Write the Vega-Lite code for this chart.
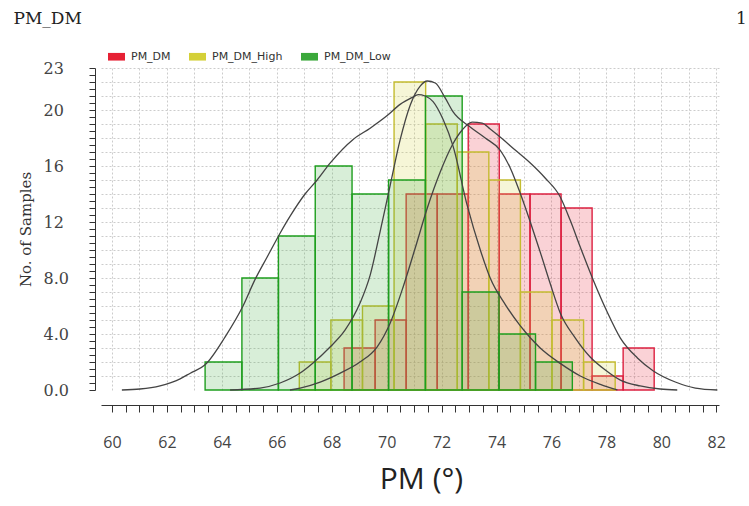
{
  "$schema": "https://vega.github.io/schema/vega-lite/v6.json",
  "width": 618,
  "height": 322,
  "autosize": {"type": "none"},
  "padding": {"left": 101, "top": 68, "right": 30, "bottom": 116},
  "background": "white",
  "config": {"font": "DejaVu Sans", "view": {"stroke": null}},
  "datasets": {
    "bars": [
      {"series": "PM_DM", "bin_start": 68.45, "bin_end": 69.58, "count": 3},
      {"series": "PM_DM", "bin_start": 69.58, "bin_end": 70.71, "count": 5},
      {"series": "PM_DM", "bin_start": 70.71, "bin_end": 71.84, "count": 14},
      {"series": "PM_DM", "bin_start": 71.84, "bin_end": 72.97, "count": 14},
      {"series": "PM_DM", "bin_start": 72.97, "bin_end": 74.10, "count": 19},
      {"series": "PM_DM", "bin_start": 74.10, "bin_end": 75.22, "count": 14},
      {"series": "PM_DM", "bin_start": 75.22, "bin_end": 76.35, "count": 14},
      {"series": "PM_DM", "bin_start": 76.35, "bin_end": 77.48, "count": 13},
      {"series": "PM_DM", "bin_start": 77.48, "bin_end": 78.61, "count": 1},
      {"series": "PM_DM", "bin_start": 78.61, "bin_end": 79.74, "count": 3},
      {"series": "PM_DM_High", "bin_start": 66.82, "bin_end": 67.97, "count": 2},
      {"series": "PM_DM_High", "bin_start": 67.97, "bin_end": 69.12, "count": 5},
      {"series": "PM_DM_High", "bin_start": 69.12, "bin_end": 70.27, "count": 6},
      {"series": "PM_DM_High", "bin_start": 70.27, "bin_end": 71.42, "count": 22},
      {"series": "PM_DM_High", "bin_start": 71.42, "bin_end": 72.57, "count": 19},
      {"series": "PM_DM_High", "bin_start": 72.57, "bin_end": 73.72, "count": 17},
      {"series": "PM_DM_High", "bin_start": 73.72, "bin_end": 74.87, "count": 15},
      {"series": "PM_DM_High", "bin_start": 74.87, "bin_end": 76.02, "count": 7},
      {"series": "PM_DM_High", "bin_start": 76.02, "bin_end": 77.17, "count": 5},
      {"series": "PM_DM_High", "bin_start": 77.17, "bin_end": 78.32, "count": 2},
      {"series": "PM_DM_Low", "bin_start": 63.39, "bin_end": 64.73, "count": 2},
      {"series": "PM_DM_Low", "bin_start": 64.73, "bin_end": 66.06, "count": 8},
      {"series": "PM_DM_Low", "bin_start": 66.06, "bin_end": 67.40, "count": 11},
      {"series": "PM_DM_Low", "bin_start": 67.40, "bin_end": 68.74, "count": 16},
      {"series": "PM_DM_Low", "bin_start": 68.74, "bin_end": 70.07, "count": 14},
      {"series": "PM_DM_Low", "bin_start": 70.07, "bin_end": 71.41, "count": 15},
      {"series": "PM_DM_Low", "bin_start": 71.41, "bin_end": 72.75, "count": 21},
      {"series": "PM_DM_Low", "bin_start": 72.75, "bin_end": 74.09, "count": 7},
      {"series": "PM_DM_Low", "bin_start": 74.09, "bin_end": 75.42, "count": 4},
      {"series": "PM_DM_Low", "bin_start": 75.42, "bin_end": 76.76, "count": 2}
    ],
    "curves": [
      {"series": "PM_DM_Low", "x": 60.36, "y": 0},
      {"series": "PM_DM_Low", "x": 61.02, "y": 0.07},
      {"series": "PM_DM_Low", "x": 61.75, "y": 0.3},
      {"series": "PM_DM_Low", "x": 62.48, "y": 0.8},
      {"series": "PM_DM_Low", "x": 62.85, "y": 1.2},
      {"series": "PM_DM_Low", "x": 63.39, "y": 1.8},
      {"series": "PM_DM_Low", "x": 64.12, "y": 3.8},
      {"series": "PM_DM_Low", "x": 64.77, "y": 6.0},
      {"series": "PM_DM_Low", "x": 65.21, "y": 7.9},
      {"series": "PM_DM_Low", "x": 65.65, "y": 9.5},
      {"series": "PM_DM_Low", "x": 66.12, "y": 11.2},
      {"series": "PM_DM_Low", "x": 66.48, "y": 12.4},
      {"series": "PM_DM_Low", "x": 67.03, "y": 14.0},
      {"series": "PM_DM_Low", "x": 67.47, "y": 15.0},
      {"series": "PM_DM_Low", "x": 67.94, "y": 16.2},
      {"series": "PM_DM_Low", "x": 68.78, "y": 17.9},
      {"series": "PM_DM_Low", "x": 69.40, "y": 18.7},
      {"series": "PM_DM_Low", "x": 70.02, "y": 19.6},
      {"series": "PM_DM_Low", "x": 70.49, "y": 20.4},
      {"series": "PM_DM_Low", "x": 70.93, "y": 20.9},
      {"series": "PM_DM_Low", "x": 71.15, "y": 21.1},
      {"series": "PM_DM_Low", "x": 71.40, "y": 21.0},
      {"series": "PM_DM_Low", "x": 71.69, "y": 20.6},
      {"series": "PM_DM_Low", "x": 72.06, "y": 19.3},
      {"series": "PM_DM_Low", "x": 72.42, "y": 17.4},
      {"series": "PM_DM_Low", "x": 72.93, "y": 13.2},
      {"series": "PM_DM_Low", "x": 73.41, "y": 10.0},
      {"series": "PM_DM_Low", "x": 73.77, "y": 8.0},
      {"series": "PM_DM_Low", "x": 74.32, "y": 6.1},
      {"series": "PM_DM_Low", "x": 74.86, "y": 4.6},
      {"series": "PM_DM_Low", "x": 75.59, "y": 3.0},
      {"series": "PM_DM_Low", "x": 76.32, "y": 1.9},
      {"series": "PM_DM_Low", "x": 77.05, "y": 1.0},
      {"series": "PM_DM_Low", "x": 77.78, "y": 0.4},
      {"series": "PM_DM_Low", "x": 78.40, "y": 0},
      {"series": "PM_DM_High", "x": 64.30, "y": 0},
      {"series": "PM_DM_High", "x": 65.39, "y": 0.14},
      {"series": "PM_DM_High", "x": 66.12, "y": 0.5},
      {"series": "PM_DM_High", "x": 66.85, "y": 1.21},
      {"series": "PM_DM_High", "x": 67.32, "y": 1.93},
      {"series": "PM_DM_High", "x": 67.94, "y": 3.07},
      {"series": "PM_DM_High", "x": 68.49, "y": 4.29},
      {"series": "PM_DM_High", "x": 69.03, "y": 6.21},
      {"series": "PM_DM_High", "x": 69.40, "y": 8.21},
      {"series": "PM_DM_High", "x": 69.76, "y": 11.29},
      {"series": "PM_DM_High", "x": 70.13, "y": 14.64},
      {"series": "PM_DM_High", "x": 70.49, "y": 17.86},
      {"series": "PM_DM_High", "x": 70.86, "y": 20.36},
      {"series": "PM_DM_High", "x": 71.22, "y": 21.71},
      {"series": "PM_DM_High", "x": 71.48, "y": 22.07},
      {"series": "PM_DM_High", "x": 71.77, "y": 21.93},
      {"series": "PM_DM_High", "x": 72.13, "y": 20.86},
      {"series": "PM_DM_High", "x": 72.42, "y": 19.86},
      {"series": "PM_DM_High", "x": 73.04, "y": 18.79},
      {"series": "PM_DM_High", "x": 73.59, "y": 18.0},
      {"series": "PM_DM_High", "x": 74.13, "y": 17.14},
      {"series": "PM_DM_High", "x": 74.50, "y": 15.86},
      {"series": "PM_DM_High", "x": 74.86, "y": 14.07},
      {"series": "PM_DM_High", "x": 75.23, "y": 12.0},
      {"series": "PM_DM_High", "x": 75.59, "y": 9.86},
      {"series": "PM_DM_High", "x": 75.96, "y": 7.57},
      {"series": "PM_DM_High", "x": 76.32, "y": 5.5},
      {"series": "PM_DM_High", "x": 76.87, "y": 3.71},
      {"series": "PM_DM_High", "x": 77.41, "y": 2.36},
      {"series": "PM_DM_High", "x": 77.96, "y": 1.43},
      {"series": "PM_DM_High", "x": 78.51, "y": 0.71},
      {"series": "PM_DM_High", "x": 79.23, "y": 0.29},
      {"series": "PM_DM_High", "x": 79.96, "y": 0.07},
      {"series": "PM_DM_High", "x": 80.58, "y": 0},
      {"series": "PM_DM", "x": 66.48, "y": 0},
      {"series": "PM_DM", "x": 66.85, "y": 0.14},
      {"series": "PM_DM", "x": 67.58, "y": 0.57},
      {"series": "PM_DM", "x": 68.31, "y": 1.21},
      {"series": "PM_DM", "x": 69.03, "y": 2.0},
      {"series": "PM_DM", "x": 69.65, "y": 3.07},
      {"series": "PM_DM", "x": 70.13, "y": 4.79},
      {"series": "PM_DM", "x": 70.60, "y": 7.36},
      {"series": "PM_DM", "x": 71.04, "y": 10.14},
      {"series": "PM_DM", "x": 71.48, "y": 13.0},
      {"series": "PM_DM", "x": 71.95, "y": 15.57},
      {"series": "PM_DM", "x": 72.39, "y": 17.5},
      {"series": "PM_DM", "x": 72.75, "y": 18.57},
      {"series": "PM_DM", "x": 73.11, "y": 19.14},
      {"series": "PM_DM", "x": 73.48, "y": 19.07},
      {"series": "PM_DM", "x": 73.77, "y": 18.64},
      {"series": "PM_DM", "x": 74.13, "y": 18.07},
      {"series": "PM_DM", "x": 74.68, "y": 17.14},
      {"series": "PM_DM", "x": 75.23, "y": 16.21},
      {"series": "PM_DM", "x": 75.77, "y": 15.14},
      {"series": "PM_DM", "x": 76.32, "y": 13.79},
      {"series": "PM_DM", "x": 76.68, "y": 12.14},
      {"series": "PM_DM", "x": 77.05, "y": 10.21},
      {"series": "PM_DM", "x": 77.52, "y": 7.86},
      {"series": "PM_DM", "x": 78.03, "y": 5.57},
      {"series": "PM_DM", "x": 78.51, "y": 3.71},
      {"series": "PM_DM", "x": 79.13, "y": 2.29},
      {"series": "PM_DM", "x": 79.71, "y": 1.36},
      {"series": "PM_DM", "x": 80.51, "y": 0.57},
      {"series": "PM_DM", "x": 81.24, "y": 0.14},
      {"series": "PM_DM", "x": 82.04, "y": 0}
    ]
  },
  "resolve": {"axis": {"x": "independent", "y": "independent"}},
  "layer": [
    {
      "data": {"name": "bars"},
      "mark": {"type": "rect", "fillOpacity": 0.2, "strokeWidth": 1.4},
      "encoding": {
        "x": {
          "field": "bin_start", "type": "quantitative",
          "scale": {"domain": [59.6, 82.1], "nice": false, "zero": false},
          "axis": {
            "orient": "bottom", "offset": 15, "grid": false,
            "values": [60,60.5,61,61.5,62,62.5,63,63.5,64,64.5,65,65.5,66,66.5,67,67.5,68,68.5,69,69.5,70,70.5,71,71.5,72,72.5,73,73.5,74,74.5,75,75.5,76,76.5,77,77.5,78,78.5,79,79.5,80,80.5,81,81.5,82],
            "labelExpr": "datum.value % 2 == 0 ? format(datum.value, 'd') : ''",
            "labelOverlap": false, "labelFlush": false,
            "tickSize": 7, "tickColor": "#333", "domainColor": "#333", "tickWidth": 1, "domainWidth": 1,
            "labelPadding": 22, "labelFont": "Open Sans", "labelFontSize": 16, "labelColor": "#444",
            "title": "PM (°)", "titleFont": "Open Sans", "titleFontSize": 30, "titleFontWeight": "normal", "titleColor": "#222",
            "titleX": 320, "titleY": 59, "titleBaseline": "top", "titleAlign": "center"
          }
        },
        "x2": {"field": "bin_end"},
        "y": {
          "field": "count", "type": "quantitative",
          "scale": {"domain": [0, 23], "nice": false, "zero": true},
          "axis": {
            "orient": "left", "offset": 6, "grid": false,
            "values": [0,0.5,1,1.5,2,2.5,3,3.5,4,4.5,5,5.5,6,6.5,7,7.5,8,8.5,9,9.5,10,10.5,11,11.5,12,12.5,13,13.5,14,14.5,15,15.5,16,16.5,17,17.5,18,18.5,19,19.5,20,20.5,21,21.5,22,22.5,23],
            "labelExpr": "indexof([0,4,8,12,16,20,23], datum.value) >= 0 ? (datum.value < 10 ? format(datum.value, '.1f') : format(datum.value, 'd')) : ''",
            "labelOverlap": false, "labelFlush": false,
            "tickSize": 6, "tickColor": "#333", "domainColor": "#333",
            "labelAlign": "left", "labelPadding": 46, "labelFont": "DejaVu Serif", "labelFontSize": 16, "labelColor": "#444",
            "title": "No. of Samples", "titleFont": "DejaVu Serif", "titleFontSize": 15, "titleFontWeight": "normal", "titleColor": "#333",
            "titleX": -62, "titleY": 161, "titleAngle": -90, "titleBaseline": "bottom", "titleAlign": "center"
          }
        },
        "y2": {"datum": 0},
        "fill": {
          "field": "series", "type": "nominal",
          "scale": {"domain": ["PM_DM", "PM_DM_High", "PM_DM_Low"], "range": ["#e62034", "#d4d038", "#3aa83a"]},
          "legend": {
            "orient": "none", "legendX": 7, "legendY": -20, "direction": "horizontal", "title": null,
            "symbolType": "M-1,-0.45H1V0.45H-1Z", "symbolSize": 289, "symbolStrokeWidth": 0,
            "labelFont": "DejaVu Sans", "labelFontSize": 11, "labelColor": "#333", "labelOffset": 6,
            "columnPadding": 18, "padding": 0,
            "encode": {"symbols": {"update": {
              "fill": {"signal": "datum.value == 'PM_DM' ? '#e2101c' : datum.value == 'PM_DM_High' ? '#dada30' : '#1ed41e'"},
              "fillOpacity": {"value": 1}, "opacity": {"value": 1}, "strokeWidth": {"value": 0}}}}
          }
        },
        "stroke": {
          "field": "series", "type": "nominal",
          "scale": {"domain": ["PM_DM", "PM_DM_High", "PM_DM_Low"], "range": ["#dc2040", "#c4bc30", "#1e9e1e"]},
          "legend": null
        }
      }
    },
    {
      "data": {"name": "curves"},
      "mark": {"type": "line", "interpolate": "monotone", "stroke": "#444444", "strokeWidth": 1.3},
      "encoding": {
        "x": {
          "field": "x", "type": "quantitative",
          "scale": {"domain": [59.6, 82.1], "nice": false, "zero": false},
          "axis": {
            "orient": "top", "grid": true, "gridDash": [2, 2], "gridColor": "#cccccc",
            "values": [60,61,62,63,64,65,66,67,68,69,70,71,72,73,74,75,76,77,78,79,80,81,82],
            "domain": false, "ticks": false, "labels": false,
            "title": "PM_DM", "titleFont": "DejaVu Serif", "titleFontSize": 17, "titleFontWeight": "normal", "titleColor": "#222",
            "titleX": -88, "titleY": -45, "titleAlign": "left", "titleBaseline": "alphabetic"
          }
        },
        "y": {
          "field": "y", "type": "quantitative",
          "scale": {"domain": [0, 23], "nice": false},
          "axis": {
            "orient": "right", "grid": true, "gridDash": [2, 2], "gridColor": "#cccccc",
            "values": [1,2,3,4,5,6,7,8,9,10,11,12,13,14,15,16,17,18,19,20,21,22,23],
            "domain": false, "ticks": false, "labels": false,
            "title": "1", "titleFont": "DejaVu Serif", "titleFontSize": 17, "titleFontWeight": "normal", "titleColor": "#222",
            "titleX": 22, "titleY": -45, "titleAngle": 0, "titleAlign": "center", "titleBaseline": "alphabetic"
          }
        },
        "detail": {"field": "series", "type": "nominal"}
      }
    }
  ]
}
